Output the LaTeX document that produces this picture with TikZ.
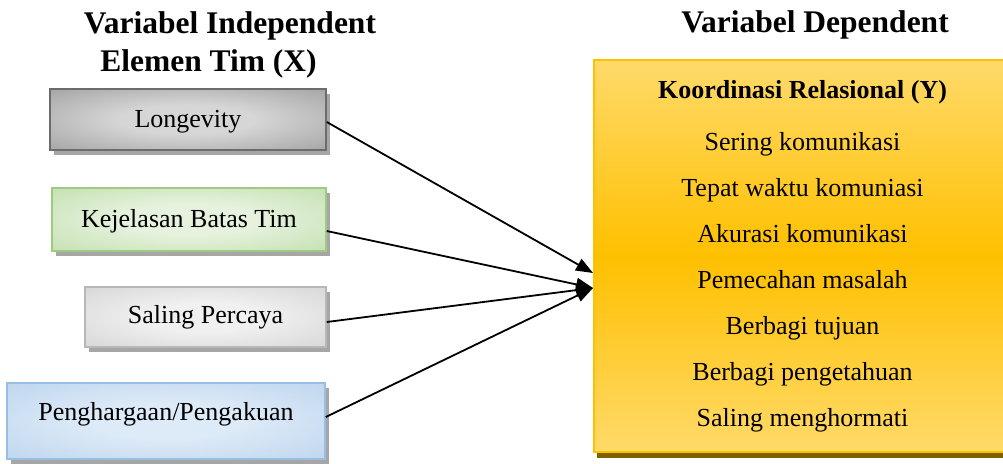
\documentclass[tikz,border=0pt]{standalone}
\usepackage{fontspec}
\setmainfont{Liberation Serif}
\usetikzlibrary{arrows.meta,shadows}
\definecolor{lgA}{HTML}{D6D6D6}
\definecolor{lgB}{HTML}{929292}
\definecolor{lgC}{HTML}{6C6C6C}
\definecolor{grA}{HTML}{E6F2DE}
\definecolor{grB}{HTML}{B8DAA1}
\definecolor{grC}{HTML}{9ECB80}
\definecolor{gyA}{HTML}{F0F0F0}
\definecolor{gyB}{HTML}{CECECE}
\definecolor{gyC}{HTML}{B8B8B8}
\definecolor{blA}{HTML}{DDEAF7}
\definecolor{blB}{HTML}{B3CFEB}
\definecolor{blC}{HTML}{97BFE4}
\definecolor{yLight}{HTML}{FFDA6A}
\definecolor{yDeep}{HTML}{FFC000}
\definecolor{yShadow}{HTML}{7F6000}
\definecolor{boxShadow}{HTML}{A6A6A6}
\pgfdeclareradialshading{longshade}{\pgfpoint{0bp}{0bp}}{color(0bp)=(lgA); color(12bp)=(lgA); color(45bp)=(lgB); color(71bp)=(lgC)}
\pgfdeclareradialshading{greenshade}{\pgfpoint{0bp}{0bp}}{color(0bp)=(grA); color(12bp)=(grA); color(45bp)=(grB); color(71bp)=(grC)}
\pgfdeclareradialshading{grayshade}{\pgfpoint{0bp}{0bp}}{color(0bp)=(gyA); color(12bp)=(gyA); color(45bp)=(gyB); color(71bp)=(gyC)}
\pgfdeclareradialshading{blueshade}{\pgfpoint{0bp}{0bp}}{color(0bp)=(blA); color(12bp)=(blA); color(45bp)=(blB); color(71bp)=(blC)}
\tikzset{
  lbox/.style={rectangle, line width=1.5pt, inner sep=0pt, text height=18pt,
    font=\fontsize{26}{30}\selectfont,
    drop shadow={shadow xshift=4pt, shadow yshift=-5pt, fill=boxShadow, opacity=1}},
  titletext/.style={anchor=base, inner sep=0pt, font=\fontsize{31.5}{36}\selectfont\bfseries},
  ytext/.style={anchor=base, inner sep=0pt, font=\fontsize{26}{30}\selectfont},
  conn/.style={line width=1.8pt, -{Triangle[length=17pt,width=13pt]}}
}
\begin{document}
\begin{tikzpicture}[x=1pt,y=-1pt]
\useasboundingbox (0,0) rectangle (1003,463);
% titles
\node[titletext] (t1) at (230,33) {Variabel Independent};
\node[titletext] (t2) at (208.5,71) {Elemen Tim (X)};
\node[titletext] (t3) at (815,32) {Variabel Dependent};
% left boxes
\node[lbox, shading=longshade, draw=lgC, minimum width=276pt, minimum height=61pt, text depth=3pt] (long) at (188,119.5) {Longevity};
\node[lbox, shading=greenshade, draw=grC, minimum width=274pt, minimum height=63pt, text depth=3pt] (kej) at (189,219.5) {Kejelasan Batas Tim};
\node[lbox, shading=grayshade, draw=gyC, minimum width=241pt, minimum height=60pt, text depth=6pt] (sal) at (205.5,317) {Saling Percaya};
\node[lbox, shading=blueshade, draw=blC, minimum width=318pt, minimum height=76pt, text depth=20pt] (peng) at (166,421) {Penghargaan/Pengakuan};
% right box
\begin{scope}
\clip (0,0) rectangle (1003,463);
\node[rectangle, minimum width=420pt, minimum height=392pt, line width=2pt, draw=yDeep,
  top color=yLight, bottom color=yLight, middle color=yDeep,
  drop shadow={shadow xshift=3pt, shadow yshift=-6pt, fill=yShadow, opacity=1}] (dep) at (804,256) {};
\end{scope}
\node[ytext, font=\fontsize{26}{30}\selectfont\bfseries] (y0) at (802.5,98) {Koordinasi Relasional (Y)};
\node[ytext] (y1) at (802.5,150) {Sering komunikasi};
\node[ytext] (y2) at (802.5,196) {Tepat waktu komuniasi};
\node[ytext] (y3) at (802.5,242) {Akurasi komunikasi};
\node[ytext] (y4) at (802.5,288) {Pemecahan masalah};
\node[ytext] (y5) at (802.5,334) {Berbagi tujuan};
\node[ytext] (y6) at (802.5,380) {Berbagi pengetahuan};
\node[ytext] (y7) at (802.5,426) {Saling menghormati};
% connectors
\coordinate (tipA) at (dep.west |- 0,273);
\coordinate (tipB) at (dep.west |- 0,288);
\draw[conn] (long.east |- 0,122) -- (tipA);
\draw[conn] (kej.east |- 0,231) -- (tipB);
\draw[conn] (sal.east |- 0,322) -- (tipB);
\draw[conn] (peng.east |- 0,417) -- (tipB);
\end{tikzpicture}
\end{document}
